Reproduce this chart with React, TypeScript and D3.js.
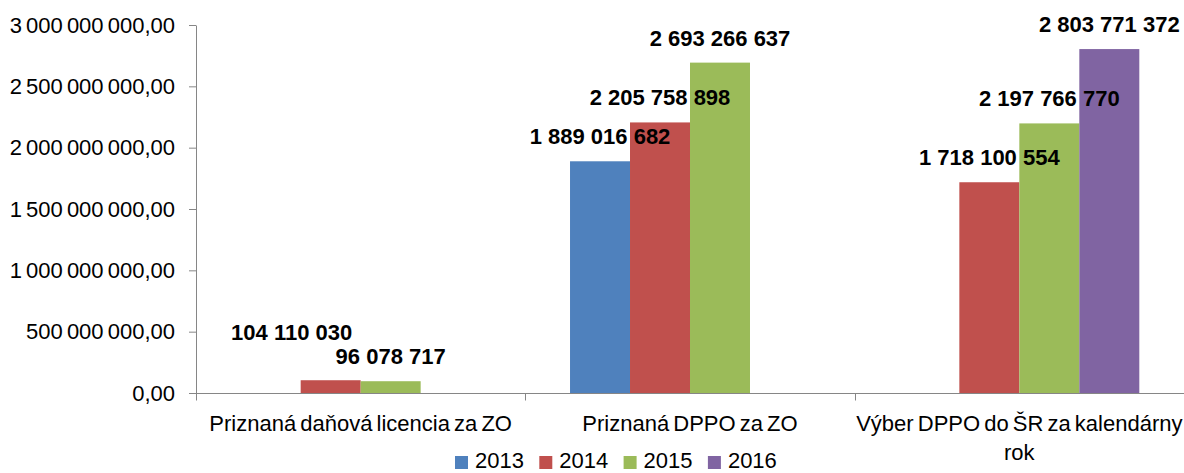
import { useEffect, useRef } from "react";
import * as d3 from "d3";

// chart data
const categories = [
    "Priznaná daňová licencia za ZO",
    "Priznaná DPPO za ZO",
    "Výber DPPO do ŠR za kalendárny rok",
];
const years = ["2013", "2014", "2015", "2016"];
const values2013 = [null, 1889016682, null];
const values2014 = [104110030, 2205758898, 1718100554];
const values2015 = [96078717, 2693266637, 2197766770];
const values2016 = [null, null, 2803771372];
const yTicks = [0, 500000000, 1000000000, 1500000000, 2000000000, 2500000000, 3000000000];

const series = [values2013, values2014, values2015, values2016];
const colors = ["#4F81BD", "#C0504D", "#9BBB59", "#8064A2"];

// the one data label that was dragged off its bar in the original
const movedLabel = { year: "2014", category: 0, dx: -39, dy: -23 };

const FONT = '"Liberation Sans", Arial, sans-serif';
const AXIS = "#868686";

const locale = d3.formatLocale({ decimal: ",", thousands: " ", grouping: [3], currency: ["", ""] });
const tickFmt = locale.format(",.2f");
const labelFmt = locale.format(",d");

// classic tspan wrap
const wrap = (text: any, width: number, lineHeight: number) => {
    text.each(function (this: SVGTextElement) {
        const t = d3.select(this);
        const words = t.text().split(/\s+/);
        const x = t.attr("x");
        const y = t.attr("y");
        t.text(null);
        let line: string[] = [];
        let lineNo = 0;
        let tspan = t.append("tspan").attr("x", x).attr("y", y);
        for (const w of words) {
            line.push(w);
            tspan.text(line.join(" "));
            if ((tspan.node() as SVGTextContentElement).getComputedTextLength() > width && line.length > 1) {
                line.pop();
                tspan.text(line.join(" "));
                line = [w];
                lineNo++;
                tspan = t.append("tspan").attr("x", x).attr("y", +y + lineNo * lineHeight).text(w);
            }
        }
    });
};

export default function App() {
    const W = 1184;
    const H = 473;
    const svgRef = useRef<SVGSVGElement | null>(null);
    const margin = { top: 25, right: 0, bottom: 80, left: 196 };

    useEffect(() => {
        const svg = d3.select(svgRef.current);
        svg.selectAll("*").remove();

        const x = d3.scaleBand<string>()
            .domain(categories)
            .range([margin.left, W - margin.right])
            .paddingInner(0)
            .paddingOuter(0);
        const xi = d3.scaleBand<string>()
            .domain(years)
            .range([0, x.bandwidth()])
            .paddingInner(0)
            .paddingOuter(0.745);
        const y = d3.scaleLinear()
            .domain([0, 3000000000])
            .range([H - margin.bottom, margin.top]);

        // y axis
        const yAxis = svg.append("g")
            .attr("transform", `translate(${margin.left},0)`)
            .call(d3.axisLeft(y)
                .tickValues(yTicks)
                .tickSize(7)
                .tickSizeOuter(0)
                .tickPadding(14)
                .tickFormat((d: any) => tickFmt(d)));
        yAxis.attr("font-family", FONT).attr("font-size", 22);
        yAxis.selectAll("path, line").attr("stroke", AXIS);
        yAxis.selectAll("text").attr("fill", "#000").style("word-spacing", "-2px");

        // x axis line + boundary ticks
        const y0 = Math.round(y(0)) + 0.5;
        svg.append("line")
            .attr("x1", margin.left).attr("x2", W - margin.right)
            .attr("y1", y0).attr("y2", y0)
            .attr("stroke", AXIS);
        const bounds = categories.map(c => x(c) as number).concat([W - margin.right]);
        svg.selectAll(".xtick")
            .data(bounds)
            .join("line")
            .attr("x1", d => Math.round(d) + 0.5).attr("x2", d => Math.round(d) + 0.5)
            .attr("y1", y0).attr("y2", y0 + 7)
            .attr("stroke", AXIS);

        const pointsOf = (vals: (number | null)[]) =>
            vals.map((v, j) => ({ v, j })).filter(d => d.v != null) as { v: number; j: number }[];

        // bars first, so every label sits on top
        const barLayer = svg.append("g");
        const labelLayer = svg.append("g");
        series.forEach((vals, i) => {
            const yr = years[i];
            const pts = pointsOf(vals);
            barLayer.append("g")
                .selectAll("rect")
                .data(pts)
                .join("rect")
                .attr("x", d => (x(categories[d.j]) as number) + (xi(yr) as number))
                .attr("width", xi.bandwidth())
                .attr("y", d => y(d.v))
                .attr("height", d => y(0) - y(d.v))
                .attr("fill", colors[i]);

            labelLayer.append("g")
                .selectAll("text")
                .data(pts)
                .join("text")
                .attr("x", d => {
                    const cx = (x(categories[d.j]) as number) + (xi(yr) as number) + xi.bandwidth() / 2;
                    return yr === movedLabel.year && d.j === movedLabel.category ? cx + movedLabel.dx : cx;
                })
                .attr("y", d => {
                    const ty = y(d.v) - 17;
                    return yr === movedLabel.year && d.j === movedLabel.category ? ty + movedLabel.dy : ty;
                })
                .attr("text-anchor", "middle")
                .attr("font-family", FONT)
                .attr("font-size", 22)
                .attr("font-weight", "bold")
                .text(d => labelFmt(d.v));
        });

        // category labels (Excel lets a line run slightly past its band)
        svg.append("g")
            .selectAll("text")
            .data(categories)
            .join("text")
            .attr("x", d => (x(d) as number) + x.bandwidth() / 2)
            .attr("y", 431)
            .attr("text-anchor", "middle")
            .attr("font-family", FONT)
            .attr("font-size", 22)
            .style("word-spacing", "-2px")
            .text(d => d)
            .call(wrap, x.bandwidth() + 10, 29);

        // legend
        const legendX = 455;
        const step = 84.3;
        const lg = svg.append("g");
        years.forEach((yr, i) => {
            lg.append("rect")
                .attr("x", legendX + i * step)
                .attr("y", 456)
                .attr("width", 13)
                .attr("height", 13)
                .attr("fill", colors[i]);
            lg.append("text")
                .attr("x", legendX + i * step + 20)
                .attr("y", 468)
                .attr("font-family", FONT)
                .attr("font-size", 22)
                .text(yr);
        });
    }, []);

    return (
        <svg
            ref={svgRef}
            width={W}
            height={H}
            style={{ position: "absolute", left: 0, top: 0, background: "#fff" }}
        />
    );
}
